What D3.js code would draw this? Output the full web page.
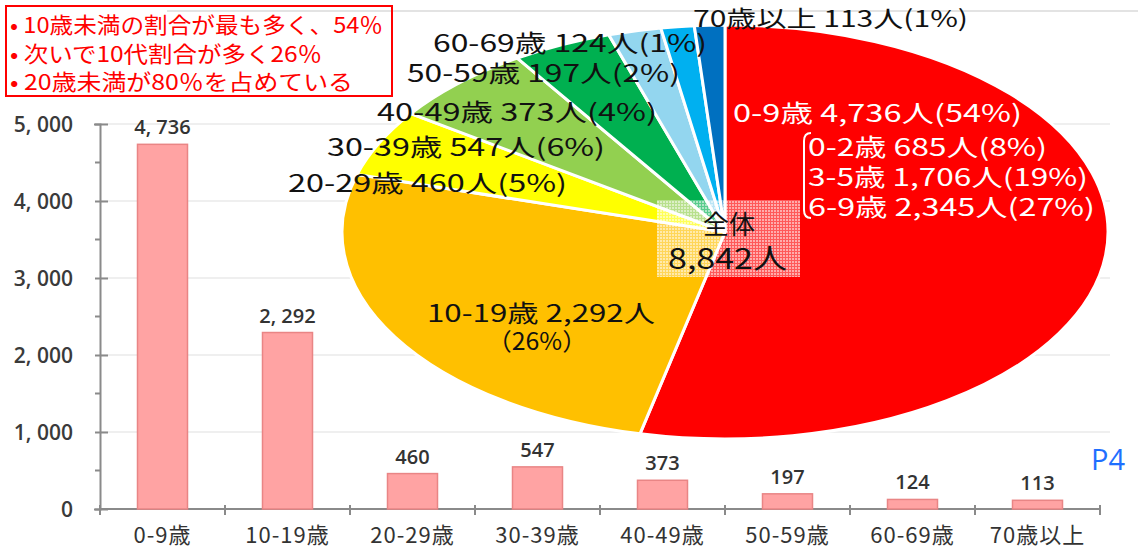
<!DOCTYPE html>
<html lang="ja">
<head>
<meta charset="utf-8">
<script src="https://cdn.jsdelivr.net/npm/d3@7"></script>
<style>
  html, body { margin: 0; padding: 0; background: #fff; }
  svg { display: block; font-family: "Noto Sans CJK JP", "Noto Sans", sans-serif; }
</style>
</head>
<body>
<svg id="chart" width="1138" height="549"></svg>
<script>
// 年代別の人数
const categories = ["0-9歳", "10-19歳", "20-29歳", "30-39歳", "40-49歳", "50-59歳", "60-69歳", "70歳以上"];
const counts = [4736, 2292, 460, 547, 373, 197, 124, 113];
const shares = [54, 26, 5, 6, 4, 2, 1, 1];

// 0-9歳の内訳
const subGroups = ["0-2歳", "3-5歳", "6-9歳"];
const subCounts = [685, 1706, 2345];
const subShares = [8, 19, 27];

const total = 8842;
const yTicks = [0, 1000, 2000, 3000, 4000, 5000];
const notes = [
  "• 10歳未満の割合が最も多く、54％",
  "• 次いで10代割合が多く26％",
  "• 20歳未満が80％を占めている"
];
const pageLabel = "P4";

const sliceColors = ["#ff0000", "#ffc000", "#ffff00", "#92d050", "#00b050", "#93d6ef", "#00b0f0", "#0070c0"];

const svg = d3.select("#chart");
const fmt = d3.format(",");
const spaced = v => fmt(v).replace(",", ", ");

// ---- 棒グラフ ----
const x = d3.scaleBand().domain(categories).range([100, 1100]).paddingInner(0.6).paddingOuter(0.3);
const y = d3.scaleLinear().domain([0, 5000]).range([509, 124]);

// faint frame line
svg.append("line").attr("x1", 167).attr("x2", 1138).attr("y1", 11).attr("y2", 11)
  .attr("stroke", "#e3e3e3").attr("stroke-width", 2);

// faint grid
svg.append("g").selectAll("line").data(yTicks.slice(1)).join("line")
  .attr("x1", 100).attr("x2", 1110)
  .attr("y1", d => y(d)).attr("y2", d => y(d))
  .attr("stroke", "#efefef").attr("stroke-width", 2);

const yAxis = svg.append("g").attr("transform", "translate(100,0)")
  .call(d3.axisLeft(y).tickValues(yTicks).tickSize(6).tickFormat(d => d === 0 ? "0" : spaced(d)));
yAxis.select(".domain").attr("stroke", "#8a8a8a").attr("stroke-width", 2);
yAxis.selectAll(".tick line").attr("stroke", "#8a8a8a").attr("stroke-width", 2).attr("x2", 8).attr("x1", -5);
yAxis.selectAll(".tick text").attr("x", -27).attr("dy", "0.35em")
  .attr("font-size", 21).attr("font-weight", 600).attr("fill", "#3a3a3a").attr("font-family", "'Open Sans', sans-serif");
// minor ticks every 500
svg.append("g").selectAll("line").data(d3.range(500, 5000, 1000)).join("line")
  .attr("x1", 95).attr("x2", 100).attr("y1", d => y(d)).attr("y2", d => y(d))
  .attr("stroke", "#8a8a8a").attr("stroke-width", 2);

// x axis
svg.append("line").attr("x1", 100).attr("x2", 1100).attr("y1", y(0)).attr("y2", y(0))
  .attr("stroke", "#8a8a8a").attr("stroke-width", 2);
const step = x.step();
const bounds = categories.map(c => x(c) - (step - x.bandwidth()) / 2).concat([1100]);
svg.append("g").selectAll("line").data(bounds).join("line")
  .attr("x1", d => d).attr("x2", d => d).attr("y1", y(0) - 4).attr("y2", y(0) + 6)
  .attr("stroke", "#8a8a8a").attr("stroke-width", 2);

svg.append("g").selectAll("rect").data(counts).join("rect")
  .attr("x", (d, i) => x(categories[i]))
  .attr("width", x.bandwidth())
  .attr("y", d => y(d))
  .attr("height", d => y(0) - y(d))
  .attr("fill", "#ffa3a3").attr("stroke", "#e98585").attr("stroke-width", 1.5);

svg.append("g").selectAll("text").data(counts).join("text")
  .attr("x", (d, i) => x(categories[i]) + x.bandwidth() / 2)
  .attr("y", d => y(d) - 10)
  .attr("text-anchor", "middle")
  .attr("font-size", 20).attr("font-weight", 600).attr("fill", "#333")
  .attr("font-family", "'Open Sans', sans-serif")
  .text(d => spaced(d));

svg.append("g").selectAll("text").data(categories).join("text")
  .attr("x", d => x(d) + x.bandwidth() / 2)
  .attr("y", 543)
  .attr("text-anchor", "middle")
  .attr("font-size", 22).attr("letter-spacing", 1).attr("fill", "#333")
  .text(d => d);

// ---- 円グラフ(楕円) ----
const cx = 725, cy = 232, rx = 383, ry = 207;
const pie = d3.pie().sort(null).value(d => d)(counts);
const arc = d3.arc().innerRadius(0).outerRadius(rx);
const pieG = svg.append("g").attr("transform", `translate(${cx},${cy}) scale(1,${ry / rx})`);
pieG.selectAll("path").data(pie).join("path")
  .attr("d", arc)
  .attr("fill", (d, i) => sliceColors[i])
  .attr("stroke", "#fff").attr("stroke-width", 3)
  .attr("vector-effect", "non-scaling-stroke");

// 中央の合計ラベル背景(網目)
const defs = svg.append("defs");
const pat = defs.append("pattern").attr("id", "mesh").attr("width", 3).attr("height", 3)
  .attr("patternUnits", "userSpaceOnUse");
pat.append("rect").attr("width", 3).attr("height", 3).attr("fill", "#fff").attr("fill-opacity", 0.35);
pat.append("rect").attr("width", 2).attr("height", 2).attr("fill", "#fff").attr("fill-opacity", 0.5);
svg.append("rect").attr("x", 657).attr("y", 200).attr("width", 143).attr("height", 77).attr("fill", "url(#mesh)");

// ラベル配置
const lbl = (i) => `${categories[i]} ${fmt(counts[i])}人(${shares[i]}%)`;
const pieLabels = [
  { t: lbl(7), x: 693, y: 27, w: 275, c: "#111", s: 23 },
  { t: lbl(6), x: 433, y: 52, w: 274, c: "#111", s: 24 },
  { t: lbl(5), x: 407, y: 82, w: 273, c: "#111", s: 24 },
  { t: lbl(4), x: 377, y: 121, w: 280, c: "#111", s: 24 },
  { t: lbl(3), x: 327, y: 156, w: 278, c: "#111", s: 24 },
  { t: lbl(2), x: 288, y: 192, w: 279, c: "#111", s: 24 },
  { t: lbl(0), x: 733, y: 122, w: 289, c: "#fff", s: 24 },
  { t: `${subGroups[0]} ${fmt(subCounts[0])}人(${subShares[0]}%)`, x: 808, y: 156, w: 239, c: "#fff", s: 24 },
  { t: `${subGroups[1]} ${fmt(subCounts[1])}人(${subShares[1]}%)`, x: 808, y: 186, w: 280, c: "#fff", s: 24 },
  { t: `${subGroups[2]} ${fmt(subCounts[2])}人(${subShares[2]}%)`, x: 808, y: 216, w: 287, c: "#fff", s: 24 },
  { t: `${categories[1]} ${fmt(counts[1])}人`, x: 427, y: 322, w: 228, c: "#111", s: 24 },
  { t: `（${shares[1]}%）`, x: 487, y: 350, w: 100, c: "#111", s: 24 }
];
svg.append("g").selectAll("text").data(pieLabels).join("text")
  .attr("x", d => d.x).attr("y", d => d.y)
  .attr("textLength", d => d.w).attr("lengthAdjust", "spacingAndGlyphs")
  .attr("font-size", d => d.s).attr("fill", d => d.c)
  .text(d => d.t);

// 内訳の括弧
svg.append("path")
  .attr("d", "M811,133 Q804,133 804,141 L804,210 Q804,218 811,218")
  .attr("fill", "none").attr("stroke", "#fff").attr("stroke-width", 2);

svg.append("text").attr("x", 729).attr("y", 234).attr("text-anchor", "middle")
  .attr("font-size", 26).attr("fill", "#111").text("全体");
svg.append("text").attr("x", 668).attr("y", 269).attr("textLength", 119).attr("lengthAdjust", "spacingAndGlyphs")
  .attr("font-size", 28).attr("fill", "#111").text(`${fmt(total)}人`);

// 注記ボックス
svg.append("rect").attr("x", 6).attr("y", 6).attr("width", 386).attr("height", 90)
  .attr("fill", "none").attr("stroke", "#ff0000").attr("stroke-width", 2);
const noteW = [373, 312, 343];
svg.append("g").selectAll("text").data(notes).join("text")
  .attr("x", 10).attr("y", (d, i) => 33 + i * 28.5)
  .attr("textLength", (d, i) => noteW[i]).attr("lengthAdjust", "spacingAndGlyphs")
  .attr("font-size", 22).attr("fill", "#ff0000")
  .text(d => d);

svg.append("text").attr("x", 1091).attr("y", 470).attr("font-size", 29)
  .attr("fill", "#1f6fff").attr("font-family", "'Open Sans', sans-serif").text(pageLabel);
</script>
</body>
</html>
